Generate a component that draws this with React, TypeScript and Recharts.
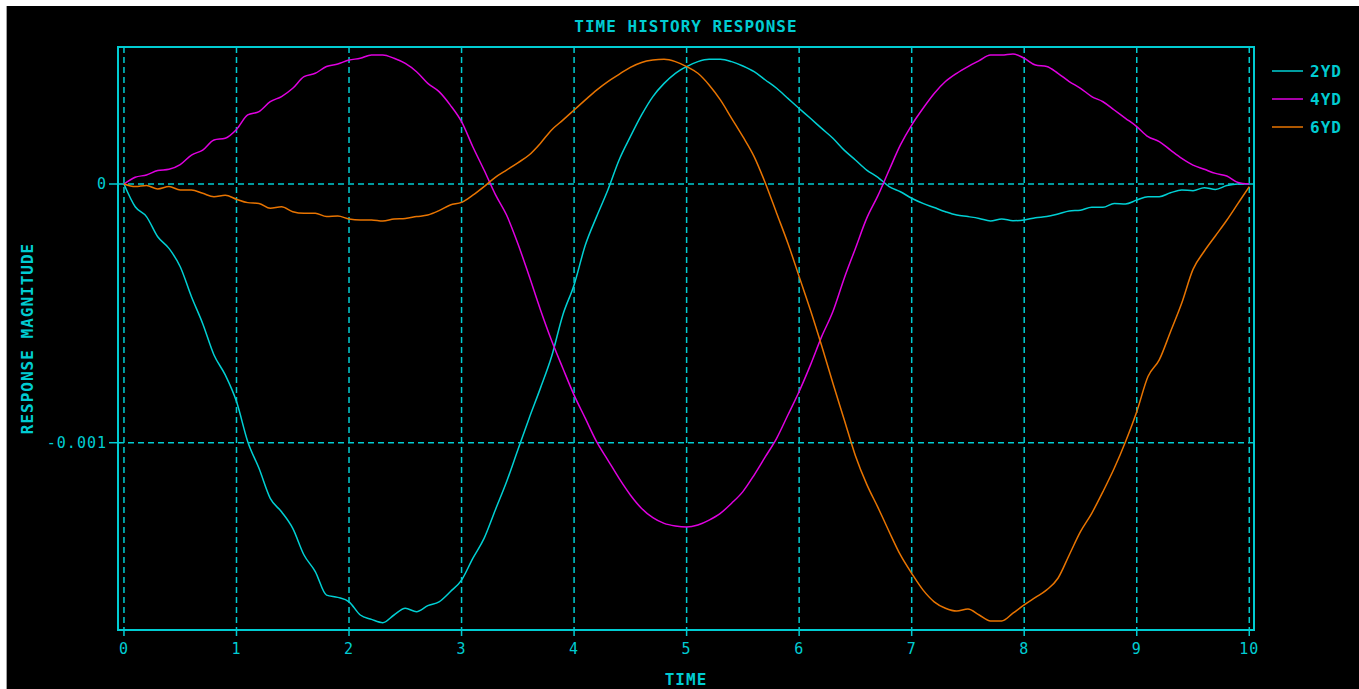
import React from 'react';
import { LineChart, Line, XAxis, YAxis, CartesianGrid, ReferenceArea } from 'recharts';

// time axis, seconds
const TIME = [
  0, 0.1, 0.2, 0.3, 0.4, 0.5, 0.6, 0.7, 0.8, 0.9,
  1, 1.1, 1.2, 1.3, 1.4, 1.5, 1.6, 1.7, 1.8, 1.9,
  2, 2.1, 2.2, 2.3, 2.4, 2.5, 2.6, 2.7, 2.8, 2.9,
  3, 3.1, 3.2, 3.3, 3.4, 3.5, 3.6, 3.7, 3.8, 3.9,
  4, 4.1, 4.2, 4.3, 4.4, 4.5, 4.6, 4.7, 4.8, 4.9,
  5, 5.1, 5.2, 5.3, 5.4, 5.5, 5.6, 5.7, 5.8, 5.9,
  6, 6.1, 6.2, 6.3, 6.4, 6.5, 6.6, 6.7, 6.8, 6.9,
  7, 7.1, 7.2, 7.3, 7.4, 7.5, 7.6, 7.7, 7.8, 7.9,
  8, 8.1, 8.2, 8.3, 8.4, 8.5, 8.6, 8.7, 8.8, 8.9,
  9, 9.1, 9.2, 9.3, 9.4, 9.5, 9.6, 9.7, 9.8, 9.9,
  10,
];

// responses, in units of 1e-3
const Y_2YD = [
  0, -0.088, -0.126, -0.204, -0.249, -0.32, -0.436, -0.54, -0.661, -0.738,
  -0.841, -0.996, -1.099, -1.215, -1.267, -1.331, -1.434, -1.498, -1.589, -1.598,
  -1.615, -1.666, -1.683, -1.696, -1.666, -1.64, -1.653, -1.63, -1.615, -1.576,
  -1.531, -1.447, -1.37, -1.26, -1.151, -1.028, -0.906, -0.79, -0.667, -0.506,
  -0.39, -0.236, -0.126, -0.023, 0.093, 0.183, 0.267, 0.338, 0.389, 0.428,
  0.454, 0.473, 0.482, 0.482, 0.473, 0.456, 0.434, 0.402, 0.37, 0.331,
  0.292, 0.254, 0.215, 0.177, 0.131, 0.093, 0.054, 0.026, -0.01, -0.03,
  -0.055, -0.075, -0.091, -0.107, -0.12, -0.126, -0.133, -0.143, -0.135, -0.142,
  -0.139, -0.13, -0.126, -0.116, -0.104, -0.101, -0.09, -0.09, -0.075, -0.077,
  -0.062, -0.049, -0.049, -0.034, -0.023, -0.026, -0.014, -0.021, -0.006, 0,
  0,
];
const Y_4YD = [
  0, 0.026, 0.035, 0.052, 0.057, 0.075, 0.112, 0.131, 0.17, 0.177,
  0.211, 0.267, 0.28, 0.318, 0.338, 0.37, 0.415, 0.428, 0.454, 0.464,
  0.479, 0.486, 0.499, 0.499, 0.486, 0.466, 0.434, 0.389, 0.357, 0.305,
  0.241, 0.144, 0.054, -0.04, -0.12, -0.23, -0.355, -0.485, -0.605, -0.712,
  -0.816, -0.906, -0.996, -1.067, -1.138, -1.202, -1.254, -1.29, -1.312, -1.322,
  -1.326, -1.318, -1.299, -1.273, -1.234, -1.189, -1.125, -1.054, -0.983, -0.893,
  -0.802, -0.7, -0.59, -0.493, -0.365, -0.249, -0.133, -0.045, 0.054, 0.151,
  0.228, 0.292, 0.35, 0.396, 0.428, 0.454, 0.477, 0.499, 0.499, 0.503,
  0.486, 0.46, 0.454, 0.428, 0.396, 0.37, 0.338, 0.318, 0.286, 0.254,
  0.222, 0.183, 0.164, 0.131, 0.099, 0.073, 0.057, 0.041, 0.031, 0.006,
  0,
];
const Y_6YD = [
  0, -0.01, -0.006, -0.019, -0.01, -0.023, -0.023, -0.036, -0.049, -0.043,
  -0.059, -0.072, -0.075, -0.094, -0.088, -0.107, -0.113, -0.113, -0.126, -0.124,
  -0.135, -0.139, -0.139, -0.143, -0.135, -0.133, -0.126, -0.12, -0.103, -0.081,
  -0.071, -0.043, -0.01, 0.026, 0.054, 0.082, 0.112, 0.157, 0.209, 0.247,
  0.286, 0.325, 0.363, 0.396, 0.424, 0.451, 0.47, 0.479, 0.482, 0.473,
  0.454, 0.428, 0.383, 0.325, 0.254, 0.183, 0.106, 0.003, -0.113, -0.229,
  -0.358, -0.487, -0.625, -0.77, -0.91, -1.05, -1.16, -1.25, -1.344, -1.434,
  -1.505, -1.569, -1.615, -1.64, -1.651, -1.643, -1.666, -1.689, -1.689, -1.659,
  -1.627, -1.598, -1.569, -1.524, -1.434, -1.344, -1.273, -1.189, -1.099, -0.996,
  -0.88, -0.744, -0.68, -0.571, -0.46, -0.33, -0.26, -0.2, -0.14, -0.075,
  -0.01,
];

const X_TICKS = [0, 1, 2, 3, 4, 5, 6, 7, 8, 9, 10];
const Y_TICKS = [0, -0.001];

const CYAN = '#00ccd2';
const SERIES = [
  { key: '2YD', color: '#00d0d4' },
  { key: '4YD', color: '#e000e0' },
  { key: '6YD', color: '#e87400' },
];

const rows = TIME.map((t, i) => ({
  t,
  '2YD': Y_2YD[i] / 1000,
  '4YD': Y_4YD[i] / 1000,
  '6YD': Y_6YD[i] / 1000,
}));

const MONO = '"DejaVu Sans Mono", "Liberation Mono", monospace';
const X_DOMAIN = [-0.053, 10.042];
const Y_DOMAIN = [-0.001724, 0.0005296];

export default function App() {
  const tick = { fill: CYAN, fontSize: 15, fontFamily: MONO, letterSpacing: 1 };
  const bold = { fill: CYAN, fontSize: 16, fontFamily: MONO, fontWeight: 'bold' as const, letterSpacing: 1 };

  return (
    <div style={{ position: 'fixed', left: 0, top: 0, width: 1359, height: 689, background: '#fff', overflow: 'hidden' }}>
      <div style={{ position: 'absolute', left: 6, top: 6, width: 1, height: 683, background: '#a0a0a0' }} />
      <div style={{ position: 'absolute', left: 7, top: 6, width: 1352, height: 683, background: '#000' }}>
        <div style={{
          position: 'absolute', left: 0, width: 1358, top: 11, textAlign: 'center',
          color: CYAN, fontFamily: MONO, fontWeight: 'bold', fontSize: 16, letterSpacing: 1,
        }}>
          TIME HISTORY RESPONSE
        </div>

        <LineChart width={1352} height={683} data={rows}
          margin={{ top: 41, right: 105, bottom: 0, left: 0 }}>
          <CartesianGrid stroke={CYAN} strokeDasharray="6 4" strokeWidth={1.5} />
          <XAxis dataKey="t" type="number" domain={X_DOMAIN} ticks={X_TICKS} allowDataOverflow
            height={59} axisLine={false} tickLine={{ stroke: CYAN, strokeWidth: 1.5 }}
            tickSize={6} tickMargin={7} tick={tick}
            label={{ value: 'TIME', position: 'insideBottom', offset: 4, ...bold }} />
          <YAxis type="number" domain={Y_DOMAIN} ticks={Y_TICKS} allowDataOverflow width={111}
            axisLine={false} tickLine={{ stroke: CYAN, strokeWidth: 1.5 }}
            tickSize={9} tickMargin={2} tick={tick}
            tickFormatter={(v: number) => (v === 0 ? '0' : String(v))}
            label={{ value: 'RESPONSE MAGNITUDE', angle: -90, position: 'insideLeft', offset: 20,
              style: { textAnchor: 'middle' }, ...bold }} />
          <ReferenceArea x1={X_DOMAIN[0]} x2={X_DOMAIN[1]} y1={Y_DOMAIN[0]} y2={Y_DOMAIN[1]}
            fill="none" fillOpacity={0} stroke={CYAN} strokeWidth={2} ifOverflow="visible" />
          {SERIES.map(s => (
            <Line key={s.key} dataKey={s.key} stroke={s.color} strokeWidth={1.5}
              dot={false} type="monotone" isAnimationActive={false} />
          ))}
        </LineChart>

        <div style={{ position: 'absolute', left: 1265, top: 51 }}>
          {SERIES.map(s => (
            <div key={s.key} style={{ display: 'flex', alignItems: 'center', height: 28 }}>
              <svg width={32} height={4} style={{ display: 'block' }}>
                <line x1={0} y1={2} x2={31} y2={2} stroke={s.color} strokeWidth={1.5} />
              </svg>
              <span style={{ marginLeft: 6, color: CYAN, fontFamily: MONO, fontWeight: 'bold', fontSize: 16, letterSpacing: 1 }}>
                {s.key}
              </span>
            </div>
          ))}
        </div>
      </div>
    </div>
  );
}
